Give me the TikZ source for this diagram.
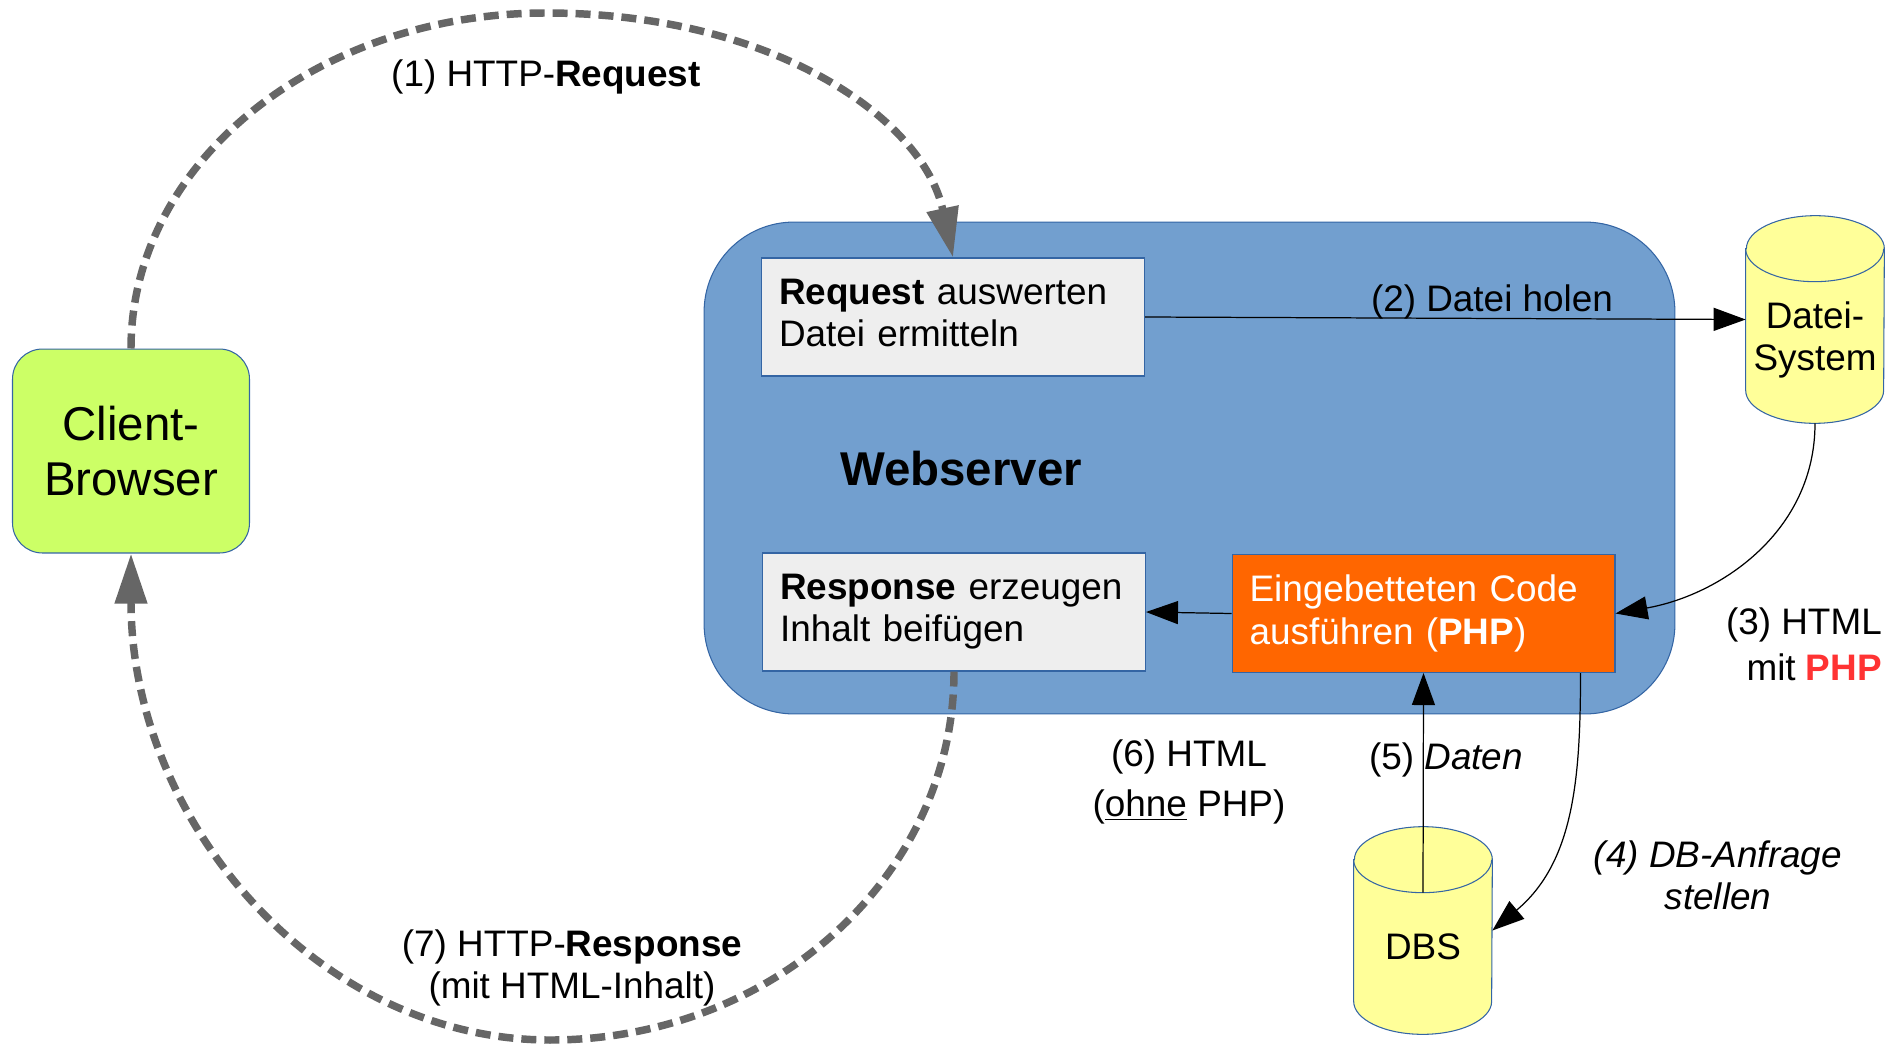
\documentclass[tikz,border=0pt]{standalone}
\usepackage{fontspec}
\setmainfont{Liberation Sans}
\usetikzlibrary{arrows.meta}
\definecolor{webblue}{HTML}{729FCF}
\definecolor{lineblue}{HTML}{3465A4}
\definecolor{clientgreen}{HTML}{CCFF66}
\definecolor{boxgray}{HTML}{EEEEEE}
\definecolor{phporange}{HTML}{FF6600}
\definecolor{dbyellow}{HTML}{FFFF99}
\definecolor{flowgray}{HTML}{666666}
\definecolor{phpred}{HTML}{FF3333}
\newcommand{\cylshape}[1]{%
\draw[lineblue,fill=dbyellow,line width=0.6pt] ([yshift=-0.66cm]#1.north west) -- ([yshift=0.66cm]#1.south west)
  arc[start angle=180,end angle=360,x radius=1.38cm,y radius=0.66cm] -- ([yshift=-0.66cm]#1.north east)
  arc[start angle=0,end angle=180,x radius=1.38cm,y radius=0.66cm] -- cycle;
\draw[lineblue,line width=0.6pt] ([yshift=-0.66cm]#1.north west) arc[start angle=180,end angle=360,x radius=1.38cm,y radius=0.66cm];}

\begin{document}
\begin{tikzpicture}[x=0.02cm,y=0.02cm,
txt/.style={font=\fontsize{21pt}{24pt}\selectfont},
big/.style={font=\fontsize{27pt}{31pt}\selectfont},
task/.style={rectangle,draw=lineblue,line width=0.6pt,fill=boxgray,txt,align=left,inner xsep=0.35cm,inner ysep=0pt,text width=6.96cm,text depth=28.5pt,minimum height=2.36cm},
store/.style={rectangle,draw=none,inner sep=0pt,minimum width=2.76cm,minimum height=4.14cm},
flow/.style={flowgray,line width=4.25pt,dash pattern=on 0.3cm off 0.16cm,-{Triangle[length=1cm,width=0.62cm]}},
call/.style={black,line width=0.7pt,-{Triangle[length=0.64cm,width=0.46cm]}}]
\useasboundingbox (0,0) rectangle (1902,-1045);
\node[rectangle,draw=lineblue,fill=webblue,line width=0.6pt,rounded corners=1.8cm,minimum width=19.42cm,minimum height=9.84cm] (web) at (1189.5,-468) {};
\node[big,font=\fontsize{27pt}{31pt}\selectfont\bfseries] (webtxt) at (961,-469) {Webserver};
\node[rectangle,draw=lineblue,fill=clientgreen,line width=0.6pt,rounded corners=0.6cm,minimum width=4.74cm,minimum height=4.08cm,big,align=center] (client) at (131,-451) {Client-\\Browser};
\node[task] (req) at (953,-317) {\textbf{Request} auswerten\\Datei ermitteln};
\node[task] (resp) at (954,-612) {\textbf{Response} erzeugen\\Inhalt beif\"ugen};
\node[task,fill=phporange,text=white] (orange) at (1423.5,-613.5) {Eingebetteten Code\\ausf\"uhren (\textbf{PHP})};
\node[store] (datei) at (1815,-319.5) {};
\cylshape{datei}
\node[txt,align=center] (dateitxt) at ([yshift=-0.41cm]datei.center) {Datei-\\System};
\node[store] (dbs) at (1423,-930.5) {};
\cylshape{dbs}
\node[txt] (dbstxt) at ([yshift=-0.33cm]dbs.center) {DBS};
\coordinate (reqtop) at (546,-13);
\coordinate (respbottom) at (550,-1040);
\draw[flow] (client.north) .. controls +(0,186) and +(-229,0) .. (reqtop) .. controls +(225,0) and +(-30,140) .. (req.north);
\draw[flow] (resp.south) .. controls +(0,-204) and +(223,0) .. (respbottom) .. controls +(-231,0) and +(0,-269) .. (client.south);
\draw[call] (req.east) -- (datei.west);
\draw[call] (datei.south) to[out=-90,in=10] (orange.east);
\draw[call] ([xshift=-0.7cm]orange.south east) to[out=-90,in=40] (dbs.east);
\draw[call] ([yshift=-1.32cm]dbs.north) -- (orange.south);
\draw[call] (orange.west) -- (resp.east);
\node[txt] (l1) at (546,-77) {(1) HTTP-\textbf{Request}};
\node[txt] (l2) at (1492,-302) {(2) Datei holen};
\node[txt,align=right,anchor=east] (l3) at (1888,-644) {(3) HTML\\[0.08cm]mit \textcolor{phpred}{\textbf{PHP}}};
\node[txt,align=center,font=\fontsize{21pt}{24pt}\selectfont\itshape] (l4) at (1718,-875) {(4) DB-Anfrage\\stellen};
\node[txt] (l5) at (1446,-760) {(5) \textit{Daten}};
\node[txt,align=center] (l6) at (1189,-782) {(6) HTML\\[0.16cm](\underline{ohne} PHP)};
\node[txt,align=center] (l7) at (572,-968) {(7) HTTP-\textbf{Response}\\(mit HTML-Inhalt)};
\end{tikzpicture}
\end{document}
